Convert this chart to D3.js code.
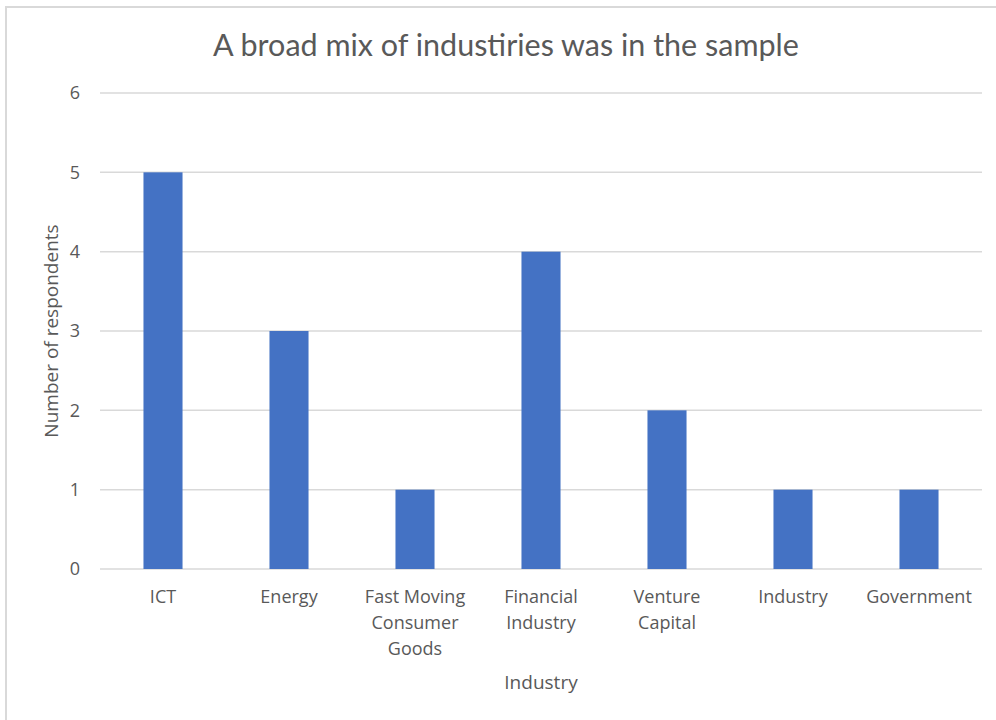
<!DOCTYPE html>
<html>
<head>
<meta charset="utf-8">
<script src="https://cdn.jsdelivr.net/npm/d3@7"></script>
<style>
  body { margin: 0; background: #fff; }
  text { font-family: "Open Sans", sans-serif; fill: #595959; }
</style>
</head>
<body>
<div id="chart"></div>
<script>
// data
const categories = [["ICT"], ["Energy"], ["Fast Moving", "Consumer", "Goods"],
  ["Financial", "Industry"], ["Venture", "Capital"], ["Industry"], ["Government"]];
const counts = [5, 3, 1, 4, 2, 1, 1];
const yTicks = [0, 1, 2, 3, 4, 5, 6];

const width = 996, height = 720;
const margin = { top: 93, right: 14, bottom: 151, left: 100 };

const svg = d3.select("#chart").append("svg")
  .attr("width", width)
  .attr("height", height);

// chart frame, runs off the right and bottom edge
svg.append("rect")
  .attr("x", 6).attr("y", 7)
  .attr("width", 1100).attr("height", 900)
  .attr("fill", "none")
  .attr("stroke", "#d9d9d9")
  .attr("stroke-width", 2);

const keys = categories.map((d, i) => i);

const x = d3.scaleBand()
  .domain(keys)
  .range([margin.left, width - margin.right])
  .paddingInner(0.69)
  .paddingOuter(0.345);

const y = d3.scaleLinear()
  .domain([0, 6])
  .range([height - margin.bottom, margin.top]);

// gridlines
svg.append("g").selectAll("line")
  .data(yTicks)
  .enter().append("line")
  .attr("x1", margin.left)
  .attr("x2", width - margin.right)
  .attr("y1", d => y(d))
  .attr("y2", d => y(d))
  .attr("stroke", "#d9d9d9")
  .attr("stroke-width", 1.5);

// bars
svg.append("g").selectAll("rect")
  .data(counts)
  .enter().append("rect")
  .attr("x", (d, i) => x(i))
  .attr("y", d => y(d))
  .attr("width", x.bandwidth())
  .attr("height", d => y(0) - y(d))
  .attr("fill", "#4472c4");

// y axis
const yAxis = svg.append("g")
  .attr("transform", `translate(${margin.left},0)`)
  .call(d3.axisLeft(y).tickValues(yTicks).tickFormat(d3.format("d")).tickSize(0).tickPadding(20));
yAxis.select(".domain").remove();
yAxis.selectAll("text").style("font-size", "18px").attr("fill", "#595959");

// x axis, with wrapped labels
const xAxis = svg.append("g")
  .attr("transform", `translate(0,${y(0)})`)
  .call(d3.axisBottom(x).tickSize(0).tickFormat(""));
xAxis.select(".domain").remove();
xAxis.selectAll(".tick").each(function (i) {
  const t = d3.select(this).append("text")
    .attr("text-anchor", "middle")
    .style("font-size", "18px")
    .attr("fill", "#595959");
  categories[i].forEach((line, k) => {
    t.append("tspan").attr("x", 0).attr("y", 34 + k * 26).text(line);
  });
});

// titles
svg.append("text")
  .attr("x", 506).attr("y", 56)
  .attr("text-anchor", "middle")
  .style("font-family", "Lato, sans-serif")
  .style("font-size", "30.5px")
  .text("A broad mix of industiries was in the sample");

svg.append("text")
  .attr("x", 541).attr("y", 689)
  .attr("text-anchor", "middle")
  .style("font-size", "19px")
  .text("Industry");

svg.append("text")
  .attr("transform", `translate(58,${(y(0) + y(6)) / 2}) rotate(-90)`)
  .attr("text-anchor", "middle")
  .style("font-size", "19px")
  .text("Number of respondents");
</script>
</body>
</html>
